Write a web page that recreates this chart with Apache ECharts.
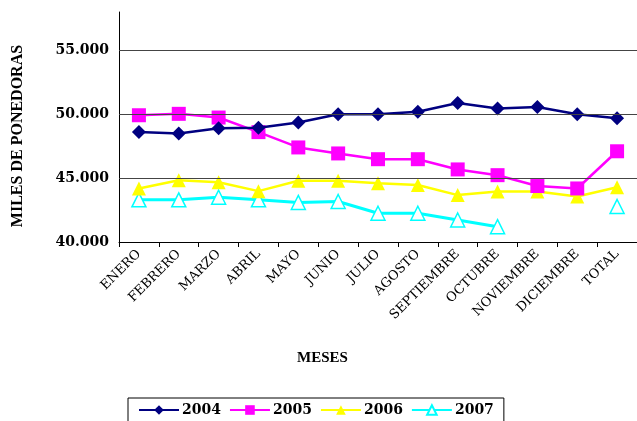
<!DOCTYPE html>
<html><head><meta charset="utf-8">
<script src="https://cdn.jsdelivr.net/npm/echarts@6/dist/echarts.min.js"></script>
<style>html,body{margin:0;padding:0;background:#fff}#c{width:637px;height:421px}</style>
</head><body><div id="c"></div>
<script>
const months = ['ENERO','FEBRERO','MARZO','ABRIL','MAYO','JUNIO','JULIO','AGOSTO','SEPTIEMBRE','OCTUBRE','NOVIEMBRE','DICIEMBRE','TOTAL'];
const s2004 = [48600,48500,48900,48950,49350,50000,50000,50200,50880,50450,50570,50000,49680];
const s2005 = [49920,50030,49740,48600,47400,46930,46480,46480,45680,45230,44380,44190,47100];
const s2006 = [44190,44840,44680,43980,44800,44800,44600,44460,43670,43950,43950,43560,44280];
const s2007 = [43300,43300,43500,43300,43100,43170,42250,42250,41720,41200,null,null,42780];
const yTicks = [45000,50000,55000];
const yMin = 40000, yMax = 58000, yStep = 5000;

const chart = echarts.init(document.getElementById('c'));
function fmt(v){ if (v % yStep !== 0) return ''; return String(v/1000) + '.000'; }
const serif = 'Liberation Serif';
chart.setOption({
  animation:false,
  backgroundColor:'#fff',
  title:{text:'MESES', left:292, top:346, textStyle:{fontFamily:serif, fontWeight:'bold', fontSize:15, color:'#000'}},
  legend:{
    left:128, top:398,
    borderColor:'#000', borderWidth:1, borderRadius:0,
    padding:[5,10,12,10], itemWidth:40, itemHeight:12, itemGap:8,
    textStyle:{fontFamily:'DejaVu Serif', fontWeight:'bold', fontSize:14, color:'#000', padding:[0,0,0,-2]},
    data:['2004','2005','2006','2007']
  },
  grid:{left:119, right:0, top:12, bottom:179, containLabel:false, outerBoundsMode:'none'},
  xAxis:{
    type:'category', data:months, boundaryGap:true,
    axisLine:{lineStyle:{color:'#000', width:1}},
    axisTick:{show:true, length:5, inside:false, lineStyle:{color:'#000'}},
    axisLabel:{rotate:45, margin:10, interval:0, fontFamily:'DejaVu Serif', fontSize:13, color:'#000'},
    splitLine:{show:false}
  },
  yAxis:{
    type:'value', min:yMin, max:yMax, interval:yStep,
    name:'MILES DE PONEDORAS', nameLocation:'middle', nameRotate:90, nameGap:93,
    nameTextStyle:{fontFamily:serif, fontWeight:'bold', fontSize:16, color:'#000', padding:[0,0,0,-18]},
    axisLine:{show:true, lineStyle:{color:'#000', width:1}},
    axisTick:{show:false},
    axisLabel:{formatter:fmt, margin:10, fontFamily:'DejaVu Serif', fontWeight:'bold', fontSize:14, color:'#000', showMaxLabel:false},
    splitLine:{show:false}
  },
  series:[
    {name:'2004', type:'line', data:s2004, symbol:'diamond', symbolSize:14,
     lineStyle:{color:'#000080', width:2.5}, itemStyle:{color:'#000080'},
     markLine:{silent:true, symbol:'none', label:{show:false}, lineStyle:{color:'#444', type:'solid', width:1},
       data: yTicks.map(v=>({yAxis:v}))}, z:4},
    {name:'2005', type:'line', data:s2005, symbol:'rect', symbolSize:14,
     lineStyle:{color:'#FF00FF', width:2.5}, itemStyle:{color:'#FF00FF'}, z:3},
    {name:'2006', type:'line', data:s2006, symbol:'triangle', symbolSize:14,
     lineStyle:{color:'#FFFF00', width:2.5}, itemStyle:{color:'#FFFF00'}, z:2},
    {name:'2007', type:'line', data:s2007, symbol:'triangle', symbolSize:14, showAllSymbol:true,
     lineStyle:{color:'#00FFFF', width:3}, itemStyle:{color:'#fff', borderColor:'#00FFFF', borderWidth:1.5}, z:1}
  ]
});
</script></body></html>
